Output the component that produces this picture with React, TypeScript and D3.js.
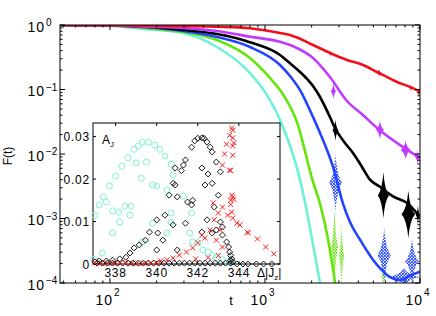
import { useEffect, useRef } from "react";
import * as d3 from "d3";

// main panel: F(t) curves, [t, F]
const redCurve = [[47.6, 1], [86, 0.998], [181, 0.975], [296, 0.96], [490, 0.94], [800, 0.89], [1250, 0.752], [1450, 0.7], [1607, 0.64], [2041, 0.49], [2624, 0.368], [3381, 0.287], [4285, 0.24], [5282, 0.187], [7112, 0.131], [9016, 0.105], [10000, 0.092]];
const magentaCurve = [[47.6, 1], [86, 0.995], [181, 0.941], [296, 0.9], [490, 0.807], [800, 0.66], [1250, 0.55], [1450, 0.49], [1607, 0.44], [2041, 0.308], [2624, 0.156], [3381, 0.0663], [4285, 0.0402], [5282, 0.0253], [7770, 0.0128], [10000, 0.0087]];
const blackCurve = [[47.6, 1], [86, 0.99], [181, 0.931], [296, 0.837], [490, 0.725], [800, 0.54], [1250, 0.343], [1450, 0.255], [1683, 0.187], [2041, 0.113], [2265, 0.0765], [2624, 0.0375], [2830, 0.0253], [3281, 0.0148], [3697, 0.0104], [4226, 0.0063], [4756, 0.004], [5521, 0.0031], [6698, 0.0022], [8370, 0.0017], [10000, 0.00105]];
const blueCurve = [[47.6, 1], [86, 0.99], [181, 0.915], [296, 0.807], [490, 0.652], [800, 0.456], [1250, 0.24], [1450, 0.162], [1683, 0.098], [2041, 0.0375], [2265, 0.0212], [2748, 0.0063], [3187, 0.0017], [3533, 0.00088], [4101, 0.00047], [4972, 0.00023], [5521, 0.00017], [6400, 0.000123], [7430, 0.000111], [8600, 0.00013], [10000, 0.00015]];
const greenCurve = [[47.6, 1], [86, 0.99], [181, 0.883], [296, 0.78], [490, 0.585], [800, 0.308], [1077, 0.151], [1250, 0.098], [1607, 0.0313], [2041, 0.0037], [2265, 0.0017], [2624, 0.000325], [2830, 0.0001], [2918, 0.000055]];
const cyanCurve = [[47.6, 1], [86, 0.985], [181, 0.852], [296, 0.752], [490, 0.456], [800, 0.18], [1030, 0.082], [1250, 0.0338], [1683, 0.004], [2265, 0.0001], [2440, 0.000038]];

// noisy clumps in the tails: [tStart, tEnd, Flow, Fhigh]
const redNoise = [[2580, 2720, 0.33, 0.4], [5250, 5650, 0.16, 0.205], [8500, 9000, 0.095, 0.118], [9600, 10000, 0.08, 0.1]];
const magentaNoise = [[2650, 2880, 0.07, 0.125], [5200, 5850, 0.017, 0.033], [7500, 8700, 0.0083, 0.016], [9300, 10000, 0.0069, 0.0114]];
const blackNoise = [[2720, 2980, 0.016, 0.034], [5350, 6300, 0.001, 0.0052], [7600, 9300, 0.0005, 0.0027], [9400, 10000, 0.0008, 0.0016]];
const blueNoise = [[2590, 3140, 0.0013, 0.0098], [5300, 6500, 0.0001, 0.00072], [8000, 9860, 0.0001, 0.00047], [6200, 10000, 0.00009, 0.00017]];
const greenNoise = [[2670, 2960, 0.00008, 0.0016], [3000, 3240, 0.00008, 0.00088], [5630, 6040, 0.00008, 0.00021]];

const xTicks = [1e2, 1e3, 1e4];
const yTicks = [1e-4, 1e-3, 1e-2, 1e-1, 1];
const xTickExp = ["2", "3", "4"];
const yTickExp = ["\u22124", "\u22123", "\u22122", "\u22121", "0"];

// inset: A_J against Delta|J_z|, [Jz, A]
const cyanCircles = [[336.95, 0.0011], [336.98, 0.0115], [337.2, 0.0139], [337.35, 0.0026], [337.4, 0.0158], [337.55, 0.0146], [337.7, 0.0184], [337.85, 0.0125], [337.85, 0.0073], [338.0, 0.0207], [338.15, 0.0122], [338.2, 0.0099], [338.3, 0.023], [338.45, 0.0136], [338.6, 0.025], [338.7, 0.0115], [338.75, 0.0136], [338.9, 0.027], [339.0, 0.0238], [339.1, 0.0278], [339.25, 0.0202], [339.3, 0.0052], [339.3, 0.0287], [339.5, 0.024], [339.6, 0.0287], [339.8, 0.0186], [339.8, 0.0096], [339.9, 0.028], [340.0, 0.0184], [340.15, 0.027], [340.4, 0.0254], [340.5, 0.0174], [340.5, 0.0073], [340.7, 0.0235], [340.8, 0.021], [340.7, 0.012], [340.7, 0.0098], [341.3, 0.016], [341.7, 0.012], [341.6, 0.0073], [341.75, 0.0052], [342.0, 0.005], [342.25, 0.0033], [342.5, 0.0028], [342.7, 0.002], [342.9, 0.0015], [343.2, 0.001], [343.45, 0.0005], [343.6, 0.0003]];
const blackDiamonds = [[337.0, 0.0005], [337.2, 0.0007], [337.55, 0.0007], [337.85, 0.0009], [338.2, 0.0012], [338.5, 0.0016], [338.7, 0.0026], [338.9, 0.0038], [339.15, 0.0045], [339.45, 0.0056], [339.65, 0.0075], [340.0, 0.0033], [340.05, 0.0073], [340.0, 0.0104], [340.3, 0.0056], [340.4, 0.0115], [340.6, 0.0162], [340.8, 0.019], [340.9, 0.0226], [340.8, 0.0092], [341.0, 0.0158], [341.0, 0.0033], [340.9, 0.0186], [341.2, 0.022], [341.3, 0.0233], [341.4, 0.0245], [341.4, 0.0096], [341.5, 0.0146], [341.7, 0.0139], [341.75, 0.015], [341.7, 0.0275], [341.85, 0.029], [342.0, 0.0296], [342.2, 0.0297], [342.3, 0.0296], [342.45, 0.0287], [342.6, 0.0275], [342.7, 0.0264], [342.2, 0.0226], [342.5, 0.0212], [342.9, 0.024], [343.1, 0.0217], [342.35, 0.0186], [342.7, 0.019], [343.0, 0.0162], [342.8, 0.0134], [342.45, 0.0104], [343.1, 0.0099], [343.2, 0.0087], [342.7, 0.0073], [342.9, 0.008], [342.2, 0.0075], [343.2, 0.0068], [343.4, 0.0052], [343.5, 0.004], [343.55, 0.0028], [343.6, 0.002], [343.65, 0.0012], [343.6, 0.0008], [343.7, 0.0005],
  [337.1, 0.0002], [337.35, 0.0002], [337.6, 0.0002], [337.85, 0.0002], [338.1, 0.0002], [338.35, 0.0002], [338.6, 0.0002], [338.85, 0.0002], [339.1, 0.0002], [339.35, 0.0002], [339.6, 0.0002], [339.85, 0.0002], [340.1, 0.0002], [340.35, 0.0002], [340.6, 0.0002], [340.85, 0.0002], [341.1, 0.0002], [341.35, 0.0002], [341.6, 0.0002], [341.85, 0.0002], [342.1, 0.0002], [342.35, 0.0002], [342.6, 0.0002], [342.85, 0.0002], [343.1, 0.0002], [343.35, 0.0002], [343.6, 0.0002],
  [343.9, 0], [344.2, 0], [344.45, 0], [344.85, 0], [345.2, 0], [345.6, 0]];
const redCrosses = [[343.65, 0.032], [343.7, 0.0315], [343.55, 0.0303], [343.7, 0.0297], [343.4, 0.0282], [343.75, 0.0285], [343.7, 0.0278], [343.3, 0.0259], [343.7, 0.0256], [343.2, 0.0233], [343.55, 0.0221], [343.6, 0.022], [343.65, 0.0162], [343.7, 0.0158], [343.75, 0.0152], [343.6, 0.015], [342.75, 0.0144], [343.2, 0.0134], [343.6, 0.014], [343.0, 0.012], [343.65, 0.0122], [342.8, 0.0104], [343.45, 0.0115], [343.7, 0.0108], [343.9, 0.0096], [344.05, 0.0092], [344.4, 0.0075], [344.45, 0.0073], [344.9, 0.0059], [345.3, 0.004], [345.7, 0.0024], [342.6, 0.008], [342.35, 0.0061], [342.0, 0.005], [341.75, 0.0038], [341.45, 0.0028], [341.1, 0.0021], [340.8, 0.0014], [342.2, 0.0068], [343.1, 0.008], [342.9, 0.0056], [343.2, 0.004], [340.5, 0.001], [340.2, 0.0007], [343.0, 0.002], [342.5, 0.0015], [341.9, 0.0012],
  [337.0, 0.0002], [337.3, 0.0002], [337.6, 0.0002], [337.9, 0.0002], [338.2, 0.0002], [338.5, 0.0002], [338.8, 0.0002], [339.1, 0.0002], [339.4, 0.0002], [339.7, 0.0002], [340.0, 0.0003]];

const insetXTicks = [338, 340, 342, 344];
const insetYTicks = [0, 0.01, 0.02, 0.03];

const FONT = "'Liberation Sans', Arial, Helvetica, sans-serif";

export default function App() {
  const ref = useRef(null);

  useEffect(() => {
    const svg = d3.select(ref.current);
    svg.selectAll("*").remove();

    const x = d3.scaleLog().domain([47.6, 1e4]).range([60, 420]);
    const y = d3.scaleLog().domain([1e-4, 1]).range([283, 25]);

    const defs = svg.append("defs");
    defs.append("clipPath").attr("id", "plotclip")
      .append("rect").attr("x", 60).attr("y", 25).attr("width", 360).attr("height", 258);
    // speckle fill for the blue and green noise
    [["speckBlue", "#2244ff"], ["speckGreen", "#64e60a"]].forEach(([id, c]) => {
      const p = defs.append("pattern").attr("id", id).attr("width", 3).attr("height", 3)
        .attr("patternUnits", "userSpaceOnUse");
      p.append("rect").attr("x", 0).attr("y", 0).attr("width", 1.8).attr("height", 1.8).attr("fill", c);
      p.append("rect").attr("x", 1.5).attr("y", 1.5).attr("width", 1.5).attr("height", 1.5).attr("fill", c);
    });

    const plot = svg.append("g").attr("clip-path", "url(#plotclip)");
    const line = d3.line().x((d) => x(d[0])).y((d) => y(d[1])).curve(d3.curveMonotoneX);

    // spiky spindle shape for a noise clump
    const blob = (b) => {
      const x0 = x(b[0]), x1 = x(b[1]), yt = y(b[3]), yb = y(b[2]);
      const xm = (x0 + x1) / 2, ym = (yt + yb) / 2;
      const w = (x1 - x0) * 0.12, h = (yb - yt) * 0.12;
      return `M${x0},${ym}Q${xm - w},${ym - h} ${xm},${yt}Q${xm + w},${ym - h} ${x1},${ym}` +
        `Q${xm + w},${ym + h} ${xm},${yb}Q${xm - w},${ym + h} ${x0},${ym}Z`;
    };

    const series = [
      { data: cyanCurve, noise: [], color: "#70f0d8", fill: "#70f0d8" },
      { data: greenCurve, noise: greenNoise, color: "#64e60a", fill: "url(#speckGreen)" },
      { data: blueCurve, noise: blueNoise, color: "#2244ff", fill: "url(#speckBlue)" },
      { data: blackCurve, noise: blackNoise, color: "#000000", fill: "#000000" },
      { data: magentaCurve, noise: magentaNoise, color: "#bf3cff", fill: "#bf3cff" },
      { data: redCurve, noise: redNoise, color: "#f0101c", fill: "#f0101c" },
    ];
    series.forEach((s) => {
      plot.selectAll(null).data(s.noise).enter().append("path")
        .attr("d", blob).attr("fill", s.fill);
      plot.append("path").datum(s.data).attr("d", line)
        .attr("fill", "none").attr("stroke", s.color).attr("stroke-width", 2.6);
    });

    // main axes box and ticks
    const axes = svg.append("g").attr("stroke", "#000").attr("stroke-width", 1);
    axes.append("rect").attr("x", 60).attr("y", 25).attr("width", 360).attr("height", 258).attr("fill", "none");
    const xMinor = [];
    const yMinor = [];
    for (let k = 1; k <= 3; k++) for (let m = 2; m <= 9; m++) { const t = m * 10 ** k; if (t > 47.6 && t < 1e4) xMinor.push(t); }
    for (let k = -4; k <= -1; k++) for (let m = 2; m <= 9; m++) yMinor.push(m * 10 ** k);
    const tickX = (vals, len) => vals.forEach((v) => {
      axes.append("line").attr("x1", x(v)).attr("x2", x(v)).attr("y1", 283).attr("y2", 283 - len);
      axes.append("line").attr("x1", x(v)).attr("x2", x(v)).attr("y1", 25).attr("y2", 25 + len);
    });
    const tickY = (vals, len) => vals.forEach((v) => {
      axes.append("line").attr("y1", y(v)).attr("y2", y(v)).attr("x1", 60).attr("x2", 60 + len);
      axes.append("line").attr("y1", y(v)).attr("y2", y(v)).attr("x1", 420).attr("x2", 420 - len);
    });
    tickX(xTicks, 5); tickX(xMinor, 2.5);
    tickY(yTicks, 5); tickY(yMinor, 2.5);

    const txt = svg.append("g").attr("font-family", FONT).attr("fill", "#000");
    xTicks.forEach((v, i) => {
      txt.append("text").attr("x", x(v) + 3).attr("y", 305).attr("text-anchor", "end")
        .attr("font-size", 14).attr("letter-spacing", 1).text("10");
      txt.append("text").attr("x", x(v) + 4).attr("y", 296).attr("font-size", 10).text(xTickExp[i]);
    });
    yTicks.forEach((v, i) => {
      txt.append("text").attr("x", 45).attr("y", y(v) + 6.5).attr("text-anchor", "end")
        .attr("font-size", 14).attr("letter-spacing", 1).text("10");
      txt.append("text").attr("x", 46).attr("y", y(v) + 1).attr("font-size", 10).text(yTickExp[i]);
    });
    txt.append("text").attr("x", 231).attr("y", 305).attr("text-anchor", "middle").attr("font-size", 13).text("t");
    txt.append("text").attr("transform", "translate(12,156) rotate(-90)").attr("text-anchor", "middle")
      .attr("font-size", 12).text("F(t)");

    // inset
    const ix = d3.scaleLinear().domain([336.9, 346]).range([93, 280]);
    const iy = d3.scaleLinear().domain([0, 0.0332]).range([264, 123]);
    const inset = svg.append("g");
    inset.append("rect").attr("x", 93).attr("y", 123).attr("width", 187).attr("height", 141)
      .attr("fill", "#fff").attr("stroke", "#000").attr("stroke-width", 1);
    insetXTicks.forEach((v) => {
      inset.append("line").attr("x1", ix(v)).attr("x2", ix(v)).attr("y1", 264).attr("y2", 261).attr("stroke", "#000");
      inset.append("line").attr("x1", ix(v)).attr("x2", ix(v)).attr("y1", 123).attr("y2", 126).attr("stroke", "#000");
    });
    insetYTicks.forEach((v) => {
      inset.append("line").attr("x1", 93).attr("x2", 96).attr("y1", iy(v)).attr("y2", iy(v)).attr("stroke", "#000");
      inset.append("line").attr("x1", 280).attr("x2", 277).attr("y1", iy(v)).attr("y2", iy(v)).attr("stroke", "#000");
    });

    inset.selectAll(null).data(cyanCircles).enter().append("circle")
      .attr("cx", (d) => ix(d[0])).attr("cy", (d) => iy(d[1])).attr("r", 3)
      .attr("fill", "none").attr("stroke", "#7ff2d6").attr("stroke-width", 1);
    inset.selectAll(null).data(blackDiamonds).enter().append("path")
      .attr("d", (d) => { const cx = ix(d[0]), cy = iy(d[1]); return `M${cx - 3},${cy}L${cx},${cy - 3}L${cx + 3},${cy}L${cx},${cy + 3}Z`; })
      .attr("fill", "none").attr("stroke", "#000").attr("stroke-width", 0.9);
    inset.selectAll(null).data(redCrosses).enter().append("path")
      .attr("d", (d) => { const cx = ix(d[0]), cy = iy(d[1]); return `M${cx - 2.5},${cy - 2.5}L${cx + 2.5},${cy + 2.5}M${cx - 2.5},${cy + 2.5}L${cx + 2.5},${cy - 2.5}`; })
      .attr("stroke", "#ff1a1a").attr("stroke-width", 1);

    const itxt = svg.append("g").attr("font-family", FONT).attr("fill", "#000").attr("font-size", 12);
    insetXTicks.forEach((v) => {
      itxt.append("text").attr("x", ix(v)).attr("y", 277).attr("text-anchor", "middle").attr("letter-spacing", 0.8).text(v);
    });
    insetYTicks.forEach((v) => {
      itxt.append("text").attr("x", 90).attr("y", iy(v) + 4.5).attr("text-anchor", "end").attr("letter-spacing", 0.8).text(v === 0 ? "0" : v.toFixed(2));
    });
    const dj = itxt.append("text").attr("x", 257).attr("y", 277);
    dj.append("tspan").text("\u0394|J");
    dj.append("tspan").attr("font-size", 8).attr("dy", 3).text("z");
    dj.append("tspan").attr("dy", -3).text("|");
    const aj = itxt.append("text").attr("x", 102).attr("y", 144).attr("font-size", 12);
    aj.append("tspan").text("A");
    aj.append("tspan").attr("font-size", 8).attr("dy", 3).text("J");
  }, []);

  return (
    <svg ref={ref} width={436} height={316}
      style={{ position: "absolute", left: 0, top: 0, background: "#fff", display: "block" }} />
  );
}
